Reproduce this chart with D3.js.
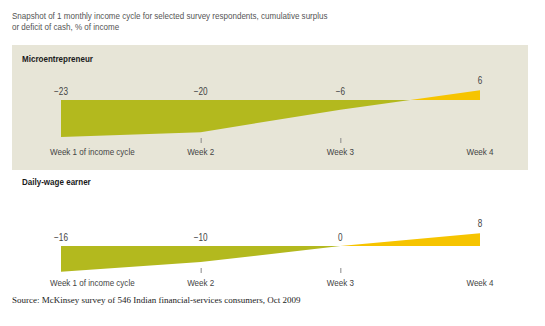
<!DOCTYPE html>
<html>
<head>
<meta charset="utf-8">
<script src="https://cdn.jsdelivr.net/npm/d3@7/dist/d3.min.js"></script>
<style>
  html, body { margin: 0; padding: 0; background: #fff; }
  svg { display: block; }
  .sans { font-family: "Liberation Sans Narrow", "Arial Narrow", "Liberation Sans", Arial, sans-serif; }
  .serif { font-family: "Liberation Serif", Georgia, "DejaVu Serif", serif; }
</style>
</head>
<body>
<svg id="chart" width="545" height="326"></svg>
<script>
// ---- data ----
const weeks = ["Week 1 of income cycle", "Week 2", "Week 3", "Week 4"];
const microentrepreneurValues = [-23, -20, -6, 6];
const dailyWageValues = [-16, -10, 0, 8];
const panelTitles = ["Microentrepreneur", "Daily-wage earner"];
const subtitleLines = [
  "Snapshot of 1 monthly income cycle for selected survey respondents, cumulative surplus",
  "or deficit of cash, % of income"
];
const sourceText = "Source: McKinsey survey of 546 Indian financial-services consumers, Oct 2009";

// ---- style / layout ----
const GREEN = "#b3b91e", YELLOW = "#f6c400", PANEL_BG = "#e7e5d7";
const NARROW = 0.82; // condensed look of the original sans face
const svg = d3.select("#chart");

// condensed text helper: positions via transform, squeezes horizontally
function ctext(sel, px, py, anchor) {
  return sel.attr("class", "sans")
    .attr("transform", (d, i) => {
      const tx = typeof px === "function" ? px(d, i) : px;
      const ty = typeof py === "function" ? py(d, i) : py;
      return `translate(${tx},${ty}) scale(${NARROW},1)`;
    })
    .attr("text-anchor", anchor || "start");
}

const x = d3.scalePoint().domain(weeks).range([61, 480]);
// value -> pixel offset from the zero line (shared unit for both panels)
const off = d3.scaleLinear().domain([0, -23]).range([0, 37]);

// subtitle
ctext(svg.append("g").selectAll("text").data(subtitleLines).join("text"),
      12, (d, i) => 18.5 + i * 11.5)
  .attr("font-size", 9.8).attr("fill", "#555")
  .text(d => d);

// panel 1 background
svg.append("rect").attr("x", 12).attr("y", 45).attr("width", 516).attr("height", 125)
  .attr("fill", PANEL_BG);

const panels = [
  { title: panelTitles[0], values: microentrepreneurValues, titleY: 62, zero: 100, tickY: 138, labelY: 155, id: "p1" },
  { title: panelTitles[1], values: dailyWageValues, titleY: 185, zero: 246, tickY: 268, labelY: 286, id: "p2" }
];

panels.forEach(p => {
  const g = svg.append("g");
  const y = v => p.zero + off(v);

  ctext(g.append("text"), 22, p.titleY)
    .attr("font-size", 9.8).attr("font-weight", "bold").attr("fill", "#1a1a1a")
    .text(p.title);

  const data = weeks.map((w, i) => ({ w, v: p.values[i] }));
  const area = d3.area().x(d => x(d.w)).y0(() => y(0)).y1(d => y(d.v));

  const defs = g.append("defs");
  defs.append("clipPath").attr("id", p.id + "neg").append("rect")
    .attr("x", 0).attr("y", y(0)).attr("width", 545).attr("height", 100);
  defs.append("clipPath").attr("id", p.id + "pos").append("rect")
    .attr("x", 0).attr("y", y(0) - 100).attr("width", 545).attr("height", 100);

  g.append("path").datum(data).attr("d", area).attr("fill", GREEN)
    .attr("clip-path", `url(#${p.id}neg)`);
  g.append("path").datum(data).attr("d", area).attr("fill", YELLOW)
    .attr("clip-path", `url(#${p.id}pos)`);

  // value labels
  ctext(g.selectAll(".val").data(data).join("text"),
        d => x(d.w), d => d.v > 0 ? y(d.v) - 6 : y(0) - 5, "middle")
    .attr("font-size", 10).attr("fill", "#444")
    .text(d => d.v < 0 ? "\u2212" + Math.abs(d.v) : String(d.v));

  // ticks at inner weeks
  g.selectAll(".tick").data(weeks.slice(1, -1)).join("line")
    .attr("x1", d => x(d) + 0.5).attr("x2", d => x(d) + 0.5)
    .attr("y1", p.tickY).attr("y2", p.tickY + 5)
    .attr("stroke", "#888").attr("stroke-width", 1);

  // week labels
  ctext(g.selectAll(".wk").data(weeks).join("text"),
        (d, i) => i === 0 ? x(d) - 11 : x(d), p.labelY,
        null)
    .attr("text-anchor", (d, i) => i === 0 ? "start" : "middle")
    .attr("font-size", 9.8).attr("fill", "#444")
    .text(d => d);
});

// source
svg.append("text").attr("class", "serif")
  .attr("x", 12).attr("y", 303)
  .attr("font-size", 9).attr("fill", "#222")
  .text(sourceText);
</script>
</body>
</html>
